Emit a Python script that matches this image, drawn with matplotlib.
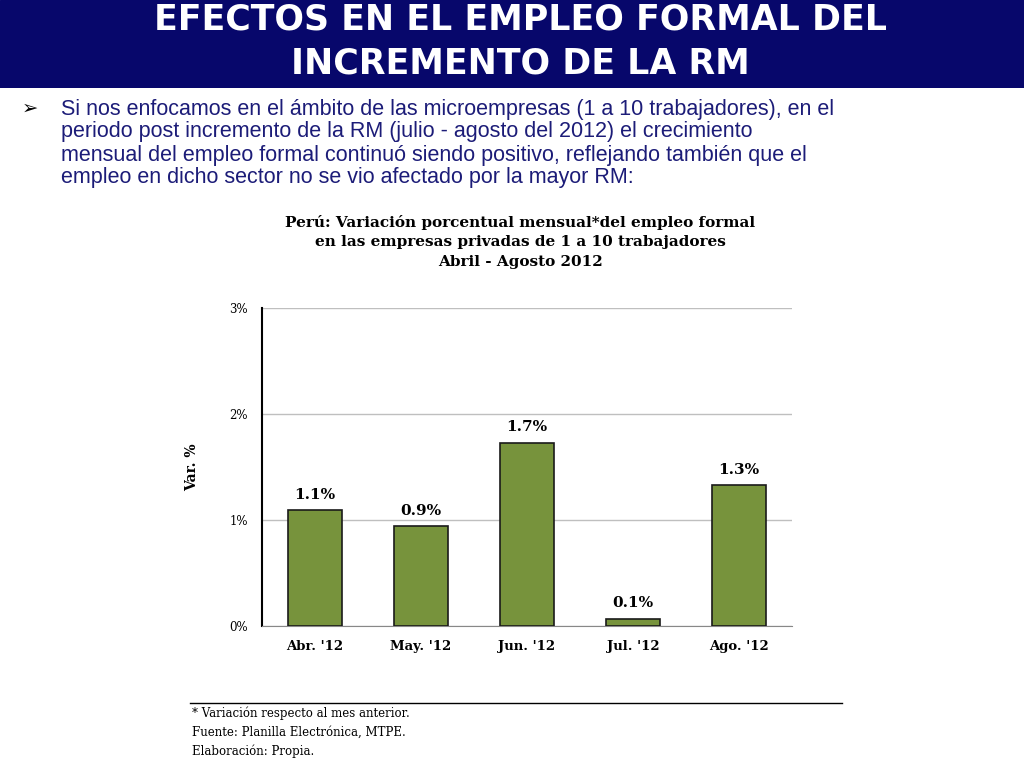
import matplotlib
matplotlib.use('Agg')
import matplotlib.pyplot as plt

# datos
meses = ["Abr. '12", "May. '12", "Jun. '12", "Jul. '12", "Ago. '12"]
variacion = [1.09, 0.94, 1.73, 0.07, 1.33]
etiquetas = ["1.1%", "0.9%", "1.7%", "0.1%", "1.3%"]
yticks = [0, 1, 2, 3]
ytick_labels = ["0%", "1%", "2%", "3%"]

W, H = 1024, 768
fig = plt.figure(figsize=(W / 100, H / 100), dpi=100)
fig.patch.set_facecolor('white')

def fx(x): return x / W
def fy(y): return 1 - y / H

# barra de titulo
bar = fig.add_axes([0, fy(88), 1, 88 / H])
bar.set_axis_off()
bar.add_patch(plt.Rectangle((0, 0), 1, 1, color='#07076b', transform=bar.transAxes))
fig.text(fx(520), fy(20), 'EFECTOS EN EL EMPLEO FORMAL DEL', color='white',
         fontsize=25, fontweight='bold', ha='center', va='center', family='DejaVu Sans')
fig.text(fx(520), fy(64), 'INCREMENTO DE LA RM', color='white',
         fontsize=25, fontweight='bold', ha='center', va='center', family='DejaVu Sans')

# texto
navy = '#1c1c78'
fig.text(fx(22), fy(108), '\u27a2', color='black', fontsize=14, ha='left', va='center')
lineas = [
    "Si nos enfocamos en el ámbito de las microempresas (1 a 10 trabajadores), en el",
    "periodo post incremento de la RM (julio - agosto del 2012) el crecimiento",
    "mensual del empleo formal continuó siendo positivo, reflejando también que el",
    "empleo en dicho sector no se vio afectado por la mayor RM:",
]
for i, t in enumerate(lineas):
    fig.text(fx(61), fy(109 + i * 23), t, color=navy, fontsize=15.5, ha='left',
             va='center', family='Liberation Sans')

# titulo del grafico
serif = 'DejaVu Serif'
for i, t in enumerate(["Perú: Variación porcentual mensual*del empleo formal",
                       "en las empresas privadas de 1 a 10 trabajadores",
                       "Abril - Agosto 2012"]):
    fig.text(fx(520), fy(222 + i * 20), t, fontsize=11, fontweight='bold',
             ha='center', va='center', family=serif)

ax = fig.add_axes([fx(262), fy(626), (792 - 262) / W, (626 - 308) / H])
x = range(len(meses))
bars = ax.bar(x, variacion, width=0.51, color='#77933c', edgecolor='#1a1a1a',
              linewidth=1.2, zorder=3)
for b, lab in zip(bars, etiquetas):
    ax.text(b.get_x() + b.get_width() / 2, b.get_height() + 0.08, lab,
            ha='center', va='bottom', fontsize=11, fontweight='bold', family=serif)
ax.set_ylim(0, 3)
ax.set_xlim(-0.5, 4.5)
ax.set_yticks(yticks)
ax.set_yticklabels(ytick_labels, fontsize=8.5, family=serif)
ax.set_xticks(list(x))
ax.set_xticklabels(meses, fontsize=9.5, fontweight='bold', family=serif)
ax.yaxis.grid(True, color='#bfbfbf', linewidth=1, zorder=0)
for s in ['top', 'right']:
    ax.spines[s].set_visible(False)
ax.spines['left'].set_linewidth(1.5)
ax.spines['bottom'].set_color('#888888')
ax.tick_params(length=0, pad=10)
ax.set_ylabel('Var. %', fontsize=10, fontweight='bold', family=serif, labelpad=22)

# notas
fig.add_artist(plt.Line2D([fx(190), fx(842)], [fy(703), fy(703)], color='black', lw=1))
for i, t in enumerate(["* Variación respecto al mes anterior.",
                       "Fuente: Planilla Electrónica, MTPE.",
                       "Elaboración: Propia."]):
    fig.text(fx(192), fy(713 + i * 19), t, fontsize=8.5, ha='left', va='center', family=serif)

fig.savefig('out.png', dpi=100)
